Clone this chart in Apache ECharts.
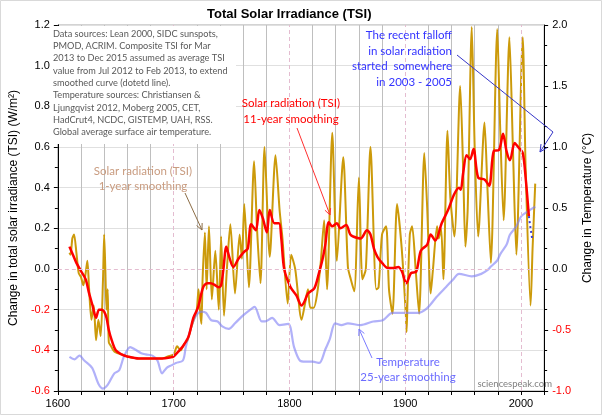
<!DOCTYPE html>
<html><head><meta charset="utf-8">
<script src="https://cdn.jsdelivr.net/npm/echarts@6/dist/echarts.min.js"></script>
<style>html,body{margin:0;padding:0;background:#fff}#c{width:602px;height:415px}</style>
</head><body><div id="c"></div>
<script>
// ---- data ----
const tsi1yr = [
[1610,0.08],[1611,0.07],[1612.5,0.15],[1614,0.17],[1616,0.08],[1618,-0.02],[1620,-0.04],[1622,-0.08],[1624,-0.02],[1625.5,0.04],
[1627,-0.1],[1629,-0.25],[1631,-0.18],[1633,-0.35],[1635,-0.25],[1637,-0.33],[1639,-0.05],[1640,0.17],[1641,0.0],[1642,-0.2],
[1643,-0.1],[1644,-0.36],[1646,-0.38],[1648,-0.4],[1650,-0.41],[1655,-0.42],[1660,-0.43],[1670,-0.44],[1680,-0.44],[1690,-0.44],
[1695,-0.43],[1700,-0.42],[1703,-0.38],[1706,-0.4],[1709,-0.37],[1712,-0.35],[1715,-0.29],[1718,-0.24],[1720,-0.2],[1721.5,-0.1],
[1723,-0.22],[1724,-0.27],[1725,-0.05],[1727,0.18],[1728.5,-0.1],[1730.5,0.21],[1733,-0.15],[1736,0.09],[1739,-0.2],[1741,0.16],
[1743.5,-0.23],[1746,0.0],[1749,0.22],[1753,-0.12],[1757,0.17],[1759,0.05],[1761,0.32],[1765,-0.09],[1769.5,0.53],[1772,0.2],
[1775,-0.07],[1778.5,0.6],[1783,0.06],[1788,0.56],[1791.5,0.29],[1794,0.15],[1798.5,-0.17],[1801.5,0.07],[1805,0.0],[1810.5,-0.25],
[1813.5,-0.17],[1816,-0.1],[1818,-0.19],[1821,-0.19],[1824,-0.12],[1827,0.03],[1830,0.24],[1832.5,-0.1],[1837,0.67],[1841,0.04],
[1846.5,0.55],[1850.5,0.01],[1853,-0.05],[1856,-0.11],[1860,0.45],[1863,-0.05],[1866,0.0],[1870,0.6],[1875,-0.1],[1877,-0.09],
[1880,0.17],[1883.5,0.21],[1886,-0.1],[1889,-0.22],[1893,0.32],[1897,0.1],[1900.5,-0.22],[1901.2,-0.31],[1902,-0.15],[1904,0.17],
[1906,0.21],[1909,0.0],[1912,-0.22],[1916.5,0.57],[1919,0.3],[1922,-0.12],[1924,0.0],[1927.5,0.21],[1929,0.15],[1931,0.2],
[1933,-0.05],[1936.5,0.68],[1939,0.35],[1942.5,0.16],[1947.5,0.9],[1950,0.5],[1952,0.11],[1954,0.3],[1957.5,1.19],[1960,0.6],
[1963,0.16],[1968.5,0.72],[1971,0.4],[1974,0.03],[1979.5,1.18],[1982,0.7],[1985,0.24],[1990,1.14],[1993,0.6],[1996,0.07],
[2001.5,1.14],[2004,0.5],[2008.3,-0.18],[2010,0.1],[2012.3,0.42]
];
const tsi11yr = [
[1610,0.11],[1613,0.07],[1616,0.03],[1620,-0.01],[1624,-0.05],[1627,-0.12],[1630,-0.18],[1633,-0.24],[1635.5,-0.2],[1638,-0.2],
[1640,-0.21],[1642,-0.24],[1644,-0.3],[1646.5,-0.35],[1650,-0.4],[1655,-0.42],[1660,-0.43],[1670,-0.44],[1690,-0.44],[1697,-0.435],
[1700,-0.43],[1705,-0.4],[1708,-0.38],[1713,-0.33],[1717,-0.24],[1721,-0.19],[1725.5,-0.09],[1729,-0.07],[1732,-0.07],[1736,-0.08],
[1739,-0.09],[1741,-0.08],[1743,0.0],[1745.5,0.11],[1748,0.06],[1751.5,0.01],[1756,0.05],[1761,0.085],[1764,0.1],[1767,0.22],
[1771,0.19],[1774,0.29],[1777,0.25],[1780.5,0.18],[1783,0.29],[1787,0.225],[1791,0.225],[1793,0.15],[1795.5,0.0],[1801,-0.09],
[1806,-0.13],[1810.5,-0.18],[1813,-0.16],[1816,-0.12],[1821.5,-0.095],[1825.5,-0.02],[1828.5,0.045],[1831,0.12],[1834,0.23],[1837,0.21],
[1841,0.225],[1844,0.2],[1849,0.216],[1852.5,0.17],[1855,0.16],[1861.5,0.15],[1867,0.19],[1870,0.17],[1873,0.1],[1876,0.06],
[1880,0.03],[1885,0.005],[1890,0.005],[1894,0.01],[1897,-0.01],[1901,-0.07],[1905,-0.02],[1909.5,-0.013],[1913.5,0.09],[1919,0.12],
[1922,0.17],[1926,0.14],[1931.5,0.225],[1937,0.29],[1942.5,0.37],[1946.5,0.4],[1948,0.39],[1950,0.47],[1953,0.56],[1956,0.54],
[1959,0.59],[1963,0.45],[1968.5,0.44],[1972.5,0.41],[1976.5,0.58],[1981,0.585],[1984.5,0.665],[1987.5,0.58],[1990.5,0.535],[1994.5,0.62],
[1997.5,0.6],[2001.5,0.57],[2004,0.45],[2006.8,0.26]
];
const tsiExtension = [[2006.8,0.26],[2008,0.21],[2009.6,0.15]];
const temp25yr = [
[1610,-0.72],[1614.5,-0.74],[1618.7,-0.71],[1622.8,-0.75],[1629.6,-0.81],[1635,-0.94],[1639,-0.98],[1643,-0.95],[1648.8,-0.855],[1653,-0.83],
[1657,-0.72],[1662.5,-0.64],[1666.7,-0.66],[1672,-0.69],[1676,-0.7],[1681.7,-0.71],[1686,-0.75],[1690,-0.855],[1694,-0.81],[1698,-0.79],
[1702,-0.77],[1708,-0.75],[1710.5,-0.64],[1714.7,-0.49],[1718.8,-0.39],[1724.3,-0.35],[1728,-0.36],[1732.5,-0.42],[1738,-0.43],[1742,-0.47],
[1747.6,-0.49],[1753,-0.445],[1760,-0.38],[1768,-0.32],[1770,-0.31],[1776,-0.43],[1779,-0.43],[1785,-0.4],[1791.5,-0.46],[1799,-0.45],
[1804,-0.64],[1809,-0.75],[1814,-0.76],[1820,-0.76],[1825.8,-0.77],[1831,-0.66],[1835,-0.57],[1839.5,-0.445],[1845,-0.46],[1850.5,-0.445],
[1861.5,-0.46],[1872.4,-0.43],[1880.7,-0.42],[1889,-0.36],[1900,-0.36],[1911,-0.36],[1919,-0.32],[1927,-0.23],[1935.5,-0.145],[1941,-0.09],
[1946.5,-0.04],[1957.5,-0.06],[1965.7,-0.04],[1971,-0.01],[1974,0.02],[1979.5,0.07],[1982,0.12],[1987.6,0.2],[1990.4,0.28],[1996,0.35],
[2000,0.43],[2005.5,0.47],[2012.3,0.51]
];
const centuryLines = [1700, 1800, 1900, 2000];
const sourceNote = ['Data sources: Lean 2000, SIDC sunspots,','PMOD, ACRIM. Composite TSI for Mar','2013 to Dec 2015 assumed as average TSI','value from Jul 2012 to Feb 2013, to extend','smoothed curve (dotetd line).','Temperature sources: Christiansen &','Ljungqvist 2012, Moberg 2005, CET,','HadCrut4, NCDC, GISTEMP, UAH, RSS.','Global average surface air temperature.'];

// ---- chart ----
const chart = echarts.init(document.getElementById('c'), null, {renderer:'canvas'});
const F = 'Liberation Sans, Arial, sans-serif';
const A = 'Lato, Liberation Sans, sans-serif';
const negRed = v => (v < 0 ? '#ff0000' : '#000000');

function arrow(pts, color, lw, h) {
  const n = pts.length, x1 = pts[n-2][0], y1 = pts[n-2][1], x2 = pts[n-1][0], y2 = pts[n-1][1];
  const ang = Math.atan2(y2 - y1, x2 - x1);
  const a1 = ang + Math.PI - 0.45, a2 = ang + Math.PI + 0.45;
  return [
    {type:'polyline', z:100, silent:true, shape:{points:pts}, style:{stroke:color, lineWidth:lw, fill:null}},
    {type:'polyline', z:100, silent:true, shape:{points:[[x2+h*Math.cos(a1), y2+h*Math.sin(a1)],[x2,y2],[x2+h*Math.cos(a2), y2+h*Math.sin(a2)]]}, style:{stroke:color, lineWidth:lw, fill:null}}
  ];
}

const vGridColors = ['rgba(0,0,0,0)','#bfbfbf','#bfbfbf','#bfbfbf','#bfbfbf'];
const hGridColors = ['#e0e0e0','#e0e0e0','#e0e0e0','rgba(0,0,0,0)','#e0e0e0','#e0e0e0','#e0e0e0','#e0e0e0','#e0e0e0','#e0e0e0'];

const option = {
  animation: false,
  backgroundColor: '#ffffff',
  title: {text:'Total Solar Irradiance (TSI)', left:202, top:3, textStyle:{fontFamily:F, fontWeight:'bold', fontSize:13, color:'#000'}},
  grid: {left:49, right:44, top:25, bottom:24, show:true, borderColor:'#a6a6a6', borderWidth:1},
  xAxis: [{
    type:'value', min:1600, max:2020, interval:20,
    axisLine:{show:true, onZero:false, lineStyle:{color:'#000', width:1}},
    axisTick:{show:true, length:4, lineStyle:{color:'#000'}},
    axisLabel:{fontFamily:F, fontSize:11, color:'#000', margin:7, formatter: v => (v % 100 === 0 ? String(v) : '')},
    splitLine:{show:true, lineStyle:{color:vGridColors, width:1}}
  }],
  yAxis: [{
    type:'value', min:-0.6, max:1.2, interval:0.2, position:'left',
    name:'Change in total solar irradiance (TSI) (W/m²)', nameLocation:'middle', nameGap:37, nameRotate:90,
    nameTextStyle:{fontFamily:F, fontSize:12, color:'#000'},
    axisLine:{show:true, onZero:false, lineStyle:{color:'#000'}},
    axisTick:{show:true, length:4, lineStyle:{color:'#000'}},
    minorTick:{show:true, splitNumber:2, length:3, lineStyle:{color:'#000'}},
    axisLabel:{fontFamily:F, fontSize:11, margin:8, color:negRed, formatter: v => v.toFixed(1)},
    splitLine:{show:true, lineStyle:{color:hGridColors, width:1}}
  },{
    type:'value', min:-1.0, max:2.0, interval:0.5, position:'right',
    name:'Change in Temperature (°C)', nameLocation:'middle', nameGap:33, nameRotate:90,
    nameTextStyle:{fontFamily:F, fontSize:12, color:'#000'},
    axisLine:{show:true, onZero:false, lineStyle:{color:'#000'}},
    axisTick:{show:true, length:4, lineStyle:{color:'#000'}},
    minorTick:{show:true, splitNumber:3, length:3, lineStyle:{color:'#000'}},
    axisLabel:{fontFamily:F, fontSize:11, margin:8, color:negRed, formatter: v => v.toFixed(1)},
    splitLine:{show:false}
  }],
  series: [
    {type:'line', name:'grid', data:[], xAxisIndex:0, yAxisIndex:0, z:1, silent:true,
     markLine:{silent:true, symbol:'none', label:{show:false},
       lineStyle:{color:'#e4bcd0', type:[4,3], width:1},
       data: [{yAxis:0}].concat(centuryLines.map(v => ({xAxis:v})))}},
    {type:'line', name:'TSI 1-year', data:tsi1yr, yAxisIndex:0, showSymbol:false, smooth:0.25, z:2,
     lineStyle:{color:'#cc9a0a', width:2}},
    {type:'line', name:'Temperature 25-year', data:temp25yr, yAxisIndex:1, showSymbol:false, smooth:0.3, z:3,
     lineStyle:{color:'rgba(125,125,245,0.6)', width:2.2}},
    {type:'line', name:'TSI 11-year', data:tsi11yr, yAxisIndex:0, showSymbol:false, smooth:0.3, z:4,
     lineStyle:{color:'#ff0000', width:2.5}},
    {type:'line', name:'TSI extension', data:tsiExtension, yAxisIndex:0, showSymbol:false, z:5,
     lineStyle:{color:'#3a3ad8', width:2, type:[2,3]}}
  ],
  graphic: [
    {type:'rect', z:-1, silent:true, shape:{x:0.5, y:0.5, width:601, height:414}, style:{fill:null, stroke:'#d9d9d9', lineWidth:1}},
    {type:'rect', z:90, silent:true, shape:{x:50, y:26, width:186, height:118}, style:{fill:'#ffffff', stroke:null}},
    {type:'text', z:100, silent:true, x:53, y:27.5, style:{text:sourceNote.join('\n'), font:'9.2px '+A, fill:'#595959', lineHeight:12.35, textVerticalAlign:'top'}},
    {type:'text', z:100, silent:true, x:291, y:95, style:{text:'Solar radiation (TSI)\n11-year smoothing', font:'11.5px '+A, fill:'#ff0000', lineHeight:16, textAlign:'center', textVerticalAlign:'top'}},
    {type:'text', z:100, silent:true, x:143, y:164, style:{text:'Solar radiation (TSI)\n1-year smoothing', font:'11.5px '+A, fill:'#c99c80', lineHeight:15, textAlign:'center', textVerticalAlign:'top'}},
    {type:'text', z:100, silent:true, x:452, y:27.5, style:{text:'The recent falloff\nin solar radiation\nstarted  somewhere\nin 2003 - 2005', font:'11.5px '+A, fill:'#3333ff', lineHeight:15.7, textAlign:'right', textVerticalAlign:'top'}},
    {type:'text', z:100, silent:true, x:408, y:354.5, style:{text:'Temperature\n25-year smoothing', font:'11.5px '+A, fill:'#6b6bff', lineHeight:15, textAlign:'center', textVerticalAlign:'top'}},
    {type:'text', z:100, silent:true, x:552, y:384, style:{text:'sciencespeak.com', font:'9.5px '+A, fill:'#808080', textAlign:'right', textVerticalAlign:'middle'}}
  ]
  .concat(arrow([[297,128],[330,215]], '#ff3030', 1, 7))
  .concat(arrow([[185,193],[202,230]], '#8c6d46', 1, 7))
  .concat(arrow([[457,55],[553,132],[540,152]], '#3535c8', 1, 8))
  .concat(arrow([[372,358],[359,329]], '#7b7bff', 1, 7))
};
chart.setOption(option);
</script></body></html>
